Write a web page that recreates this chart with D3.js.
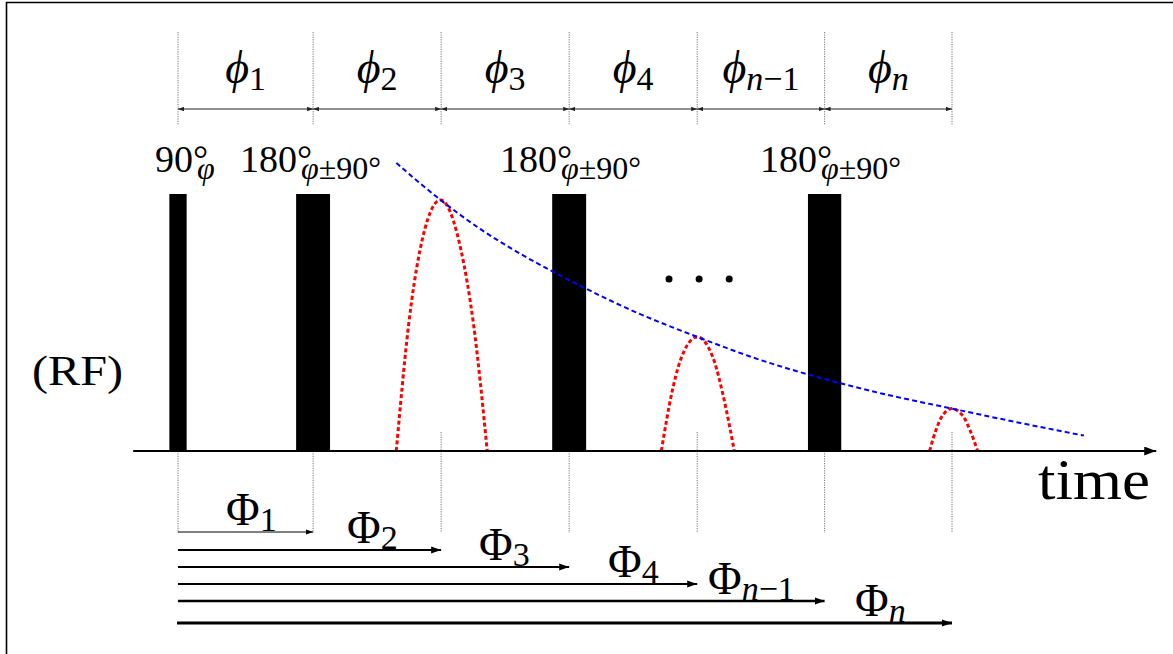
<!DOCTYPE html>
<html>
<head>
<meta charset="utf-8">
<script src="https://cdn.jsdelivr.net/npm/d3@7"></script>
<style>
  html, body { margin: 0; padding: 0; background: #fff; }
  svg { display: block; }
  text { font-family: "Liberation Serif", "Times New Roman", serif; fill: #000; }
</style>
</head>
<body>
<svg id="chart" width="1173" height="654"></svg>
<script>
// ---- CPMG-type pulse sequence -------------------------------------------
// time unit: half of the echo spacing; amplitude: relative to the RF pulse height

const pulseTimes = [0, 2.11, 6.11, 10.10];
const pulseDurations = [0.27, 0.53, 0.53, 0.52];
const pulseHeights = [1, 1, 1, 1];
const pulseAngles = ["90", "180", "180", "180"];
const pulsePhases = ["φ", "φ±90°", "φ±90°", "φ±90°"];

const echoTimes = [4.10, 8.11, 12.09];
const echoAmplitudes = [0.977, 0.444, 0.165];
// sampled echo shapes: [time, amplitude]
const echoShape1 = [[3.41, 0], [3.60, 0.486], [3.78, 0.782], [4.10, 0.977], [4.42, 0.782], [4.62, 0.486], [4.83, 0]];
const echoShape2 = [[7.55, 0], [7.71, 0.222], [7.84, 0.347], [8.11, 0.444], [8.38, 0.347], [8.51, 0.222], [8.69, 0]];
const echoShape3 = [[11.74, 0], [11.84, 0.082], [11.92, 0.129], [12.09, 0.165], [12.28, 0.129], [12.37, 0.082], [12.49, 0]];

// T2 decay envelope: [time, amplitude]
const envelope = [
  [3.41, 1.121], [4.10, 0.977], [4.72, 0.864], [5.35, 0.767], [6.11, 0.665],
  [7.07, 0.549], [8.11, 0.444], [9.10, 0.354], [10.10, 0.280], [10.97, 0.225],
  [12.09, 0.165], [13.16, 0.109], [14.15, 0.060]
];

// boundaries of the phase-accumulation intervals and their labels
const intervalTimes = [0, 2.11, 4.11, 6.11, 8.11, 10.10, 12.09];
const intervalIndex = ["1", "2", "3", "4", "n−1", "n"];
const ellipsisTimes = [7.67, 8.14, 8.61];

// ---- layout ---------------------------------------------------------------
const svg = d3.select("#chart");
const x = d3.scaleLinear().domain([0, 12.09]).range([178, 952]);
const y = d3.scaleLinear().domain([0, 1]).range([451, 194]);

const axisStart = -0.70, axisEnd = 15.28;
const topLineY = [32, 125], dimY = 109, phiBaseline = 83;
const bottomLineEnd = 533, echoTickTop = 432;
const cumArrowY = [532, 550, 567, 584, 601, 623];
const cumArrowW = [1, 1.8, 1.9, 2.2, 2.3, 3];
const cumLabelX = [226, 347, 479, 608, 708, 855];
const pulseLabelX = [155, 240, 500, 760];
const pulseLabelBase = 172;

// frame
svg.append("path")
  .attr("d", "M6.5,660 L6.5,2.5 L1180,2.5")
  .attr("fill", "none").attr("stroke", "#000").attr("stroke-width", 1.6);

// markers
const defs = svg.append("defs");
function marker(id, len, half, color) {
  defs.append("marker")
    .attr("id", id).attr("markerUnits", "userSpaceOnUse")
    .attr("viewBox", `0 ${-half} ${len} ${2 * half}`)
    .attr("refX", len).attr("refY", 0)
    .attr("markerWidth", len).attr("markerHeight", 2 * half)
    .attr("orient", "auto-start-reverse")
    .append("path")
    .attr("d", `M0,${-half} L${len},0 L0,${half} Z`)
    .attr("fill", color);
}
marker("dimHead", 6, 2.2, "#222");
marker("thinHead", 7, 2.6, "#000");
marker("cumHead", 10, 3.6, "#000");
marker("axisHead", 12, 4.5, "#000");

const dotted = { stroke: "#777", width: 1, dash: "1.2,1.2" };

function writeIndex(sel, s) {
  if (s.startsWith("n")) {
    sel.append("tspan").attr("font-style", "italic").text("n");
    sel.append("tspan").text(s.slice(1));
  } else {
    sel.text(s);
  }
}

// ---- top: interval boundaries with phase labels ----
const header = svg.append("g");
header.selectAll("line.bound").data(intervalTimes).join("line")
  .attr("class", "bound")
  .attr("x1", d => x(d)).attr("x2", d => x(d))
  .attr("y1", topLineY[0]).attr("y2", topLineY[1])
  .attr("stroke", dotted.stroke).attr("stroke-width", dotted.width)
  .attr("stroke-dasharray", dotted.dash);

const spans = d3.pairs(intervalTimes);
header.selectAll("line.dim").data(spans).join("line")
  .attr("class", "dim")
  .attr("x1", d => x(d[0])).attr("x2", d => x(d[1]))
  .attr("y1", dimY).attr("y2", dimY)
  .attr("stroke", "#222").attr("stroke-width", 1.1)
  .attr("marker-start", "url(#dimHead)").attr("marker-end", "url(#dimHead)");

const phiLabels = header.selectAll("text.phi").data(spans).join("text")
  .attr("class", "phi")
  .attr("x", d => (x(d[0]) + x(d[1])) / 2)
  .attr("y", phiBaseline)
  .attr("text-anchor", "middle");
phiLabels.append("tspan")
  .attr("font-size", 46).attr("font-style", "italic")
  .text("ϕ");
phiLabels.append("tspan")
  .attr("font-size", 34).attr("dy", 7)
  .each(function (d, i) { writeIndex(d3.select(this), intervalIndex[i]); });

// ---- RF line ----
const rf = svg.append("g");

// dotted markers below the time axis
const markTimes = intervalTimes.map(t => ({ t, echo: echoTimes.some(e => Math.abs(e - t) < 0.05) }));
rf.selectAll("line.tick").data(markTimes).join("line")
  .attr("class", "tick")
  .attr("x1", d => x(d.t)).attr("x2", d => x(d.t))
  .attr("y1", d => d.echo ? echoTickTop : y(0)).attr("y2", bottomLineEnd)
  .attr("stroke", dotted.stroke).attr("stroke-width", dotted.width)
  .attr("stroke-dasharray", dotted.dash);

// pulses
rf.selectAll("rect.pulse").data(pulseTimes).join("rect")
  .attr("class", "pulse")
  .attr("x", (d, i) => x(d - pulseDurations[i] / 2))
  .attr("width", (d, i) => x(pulseDurations[i]) - x(0))
  .attr("y", (d, i) => y(pulseHeights[i]))
  .attr("height", (d, i) => y(0) - y(pulseHeights[i]))
  .attr("fill", "#000");

// echoes
const echoLine = d3.line().x(d => x(d[0])).y(d => y(d[1])).curve(d3.curveMonotoneX);
rf.selectAll("path.echo").data([echoShape1, echoShape2, echoShape3]).join("path")
  .attr("class", "echo")
  .attr("d", echoLine)
  .attr("fill", "none").attr("stroke", "#ff0000").attr("stroke-width", 3)
  .attr("stroke-dasharray", "4,2.6");

// decay envelope
rf.append("path").datum(envelope)
  .attr("d", d3.line().x(d => x(d[0])).y(d => y(d[1])).curve(d3.curveMonotoneX))
  .attr("fill", "none").attr("stroke", "#0000ff").attr("stroke-width", 2)
  .attr("stroke-dasharray", "5,3.2");

// time axis
rf.append("line")
  .attr("x1", x(axisStart)).attr("x2", x(axisEnd))
  .attr("y1", y(0)).attr("y2", y(0))
  .attr("stroke", "#000").attr("stroke-width", 2)
  .attr("marker-end", "url(#axisHead)");

rf.append("text")
  .attr("x", 1150).attr("y", 499)
  .attr("text-anchor", "end")
  .attr("font-size", 56)
  .attr("textLength", 112).attr("lengthAdjust", "spacingAndGlyphs")
  .text("time");

rf.append("text")
  .attr("x", 32).attr("y", 385)
  .attr("font-size", 42)
  .attr("textLength", 91).attr("lengthAdjust", "spacingAndGlyphs")
  .text("(RF)");

// ellipsis between echoes
rf.selectAll("circle.dot").data(ellipsisTimes).join("circle")
  .attr("class", "dot")
  .attr("cx", d => x(d)).attr("cy", y(0.669)).attr("r", 3.5)
  .attr("fill", "#000");

// pulse labels: flip angle with degree superscript and phase subscript stacked
pulseAngles.forEach((a, i) => {
  const t = rf.append("text")
    .attr("x", pulseLabelX[i]).attr("y", pulseLabelBase)
    .attr("font-size", 38);
  t.append("tspan").text(a);
  const deg = t.append("tspan").text("°");
  const degW = deg.node().getComputedTextLength();
  const ph = pulsePhases[i];
  t.append("tspan")
    .attr("font-size", 32).attr("font-style", "italic")
    .attr("dx", -degW + 4).attr("dy", 7)
    .text(ph[0]);
  if (ph.length > 1) t.append("tspan").attr("font-size", 32).text(ph.slice(1));
});

// ---- cumulative phases below the axis ----
const cum = svg.append("g");
const cumEnds = intervalTimes.slice(1);
cum.selectAll("line.cum").data(cumEnds).join("line")
  .attr("class", "cum")
  .attr("x1", (d, i) => x(0) - (i === cumEnds.length - 1 ? 1 : 0))
  .attr("x2", d => x(d))
  .attr("y1", (d, i) => cumArrowY[i]).attr("y2", (d, i) => cumArrowY[i])
  .attr("stroke", "#000")
  .attr("stroke-width", (d, i) => cumArrowW[i])
  .attr("marker-end", (d, i) => i === 0 ? "url(#thinHead)" : "url(#cumHead)");

const cumLabels = cum.selectAll("text.cumlab").data(cumEnds).join("text")
  .attr("class", "cumlab")
  .attr("x", (d, i) => cumLabelX[i])
  .attr("y", (d, i) => cumArrowY[i] - 7);
cumLabels.append("tspan").attr("font-size", 46).text("Φ");
cumLabels.append("tspan")
  .attr("font-size", 34).attr("dy", 6)
  .each(function (d, i) { writeIndex(d3.select(this), intervalIndex[i]); });
</script>
</body>
</html>
